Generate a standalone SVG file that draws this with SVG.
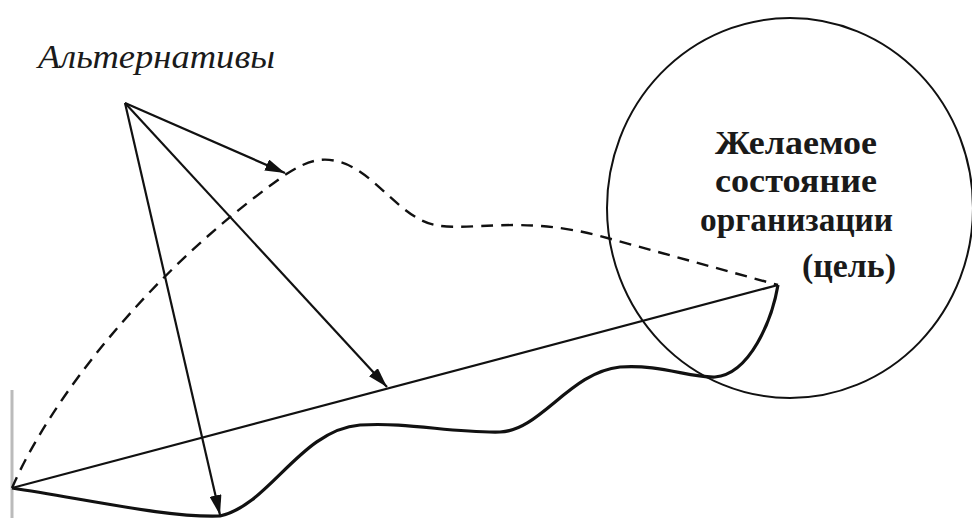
<svg xmlns="http://www.w3.org/2000/svg" width="972" height="518" viewBox="0 0 972 518">
<defs>
<style>
.ln{fill:none;stroke:#111;stroke-width:2.2}
.dash{fill:none;stroke:#111;stroke-width:2.4;stroke-dasharray:12 8}
.path{fill:none;stroke:#111;stroke-width:3.2}
.lbl{font-family:"Liberation Serif","DejaVu Serif",serif;fill:#1a1a1a}
</style>
<marker id="ah" viewBox="0 0 20 12" refX="20" refY="6" markerWidth="20" markerHeight="12" markerUnits="userSpaceOnUse" orient="auto">
<path d="M0,0 L20,6 L0,12 Z" fill="#111"/>
</marker>
</defs>
<rect width="972" height="518" fill="#fff"/>
<line x1="12" y1="390" x2="12" y2="518" stroke="#bbb" stroke-width="3"/>
<g id="goal">
<ellipse cx="790" cy="208" rx="183" ry="190" fill="none" stroke="#111" stroke-width="2"/>
<text class="lbl" font-weight="bold" font-size="33" lengthAdjust="spacingAndGlyphs">
<tspan x="715" y="154" textLength="162" lengthAdjust="spacingAndGlyphs">Желаемое</tspan>
<tspan x="715" y="192" textLength="162" lengthAdjust="spacingAndGlyphs">состояние</tspan>
<tspan x="700" y="231" textLength="193" lengthAdjust="spacingAndGlyphs">организации</tspan>
<tspan x="802" y="277" textLength="94" lengthAdjust="spacingAndGlyphs">(цель)</tspan>
</text>
</g>
<g id="alternatives">
<text class="lbl" x="38" y="68" font-style="italic" font-size="33" textLength="237" lengthAdjust="spacingAndGlyphs">Альтернативы</text>
</g>
<g id="connectors">
<path class="dash" d="M12,488 C50,400 150,270 285,175 C305,162 320,156 340,162 C375,172 400,218 435,225 C470,232 520,215 600,236 L778,285"/>
<line class="ln" x1="12" y1="488" x2="778" y2="285"/>
<path class="path" d="M12,488 C90,500 170,518 220,516 C270,505 300,430 360,425 C410,422 450,433 500,432 C540,431 570,372 620,367 C660,364 690,378 715,377 C750,374 772,320 778,285"/>
<line class="ln" x1="125" y1="103" x2="285" y2="173" marker-end="url(#ah)"/>
<line class="ln" x1="125" y1="103" x2="387" y2="387" marker-end="url(#ah)"/>
<line class="ln" x1="125" y1="103" x2="220" y2="515" marker-end="url(#ah)"/>
</g>
</svg>
